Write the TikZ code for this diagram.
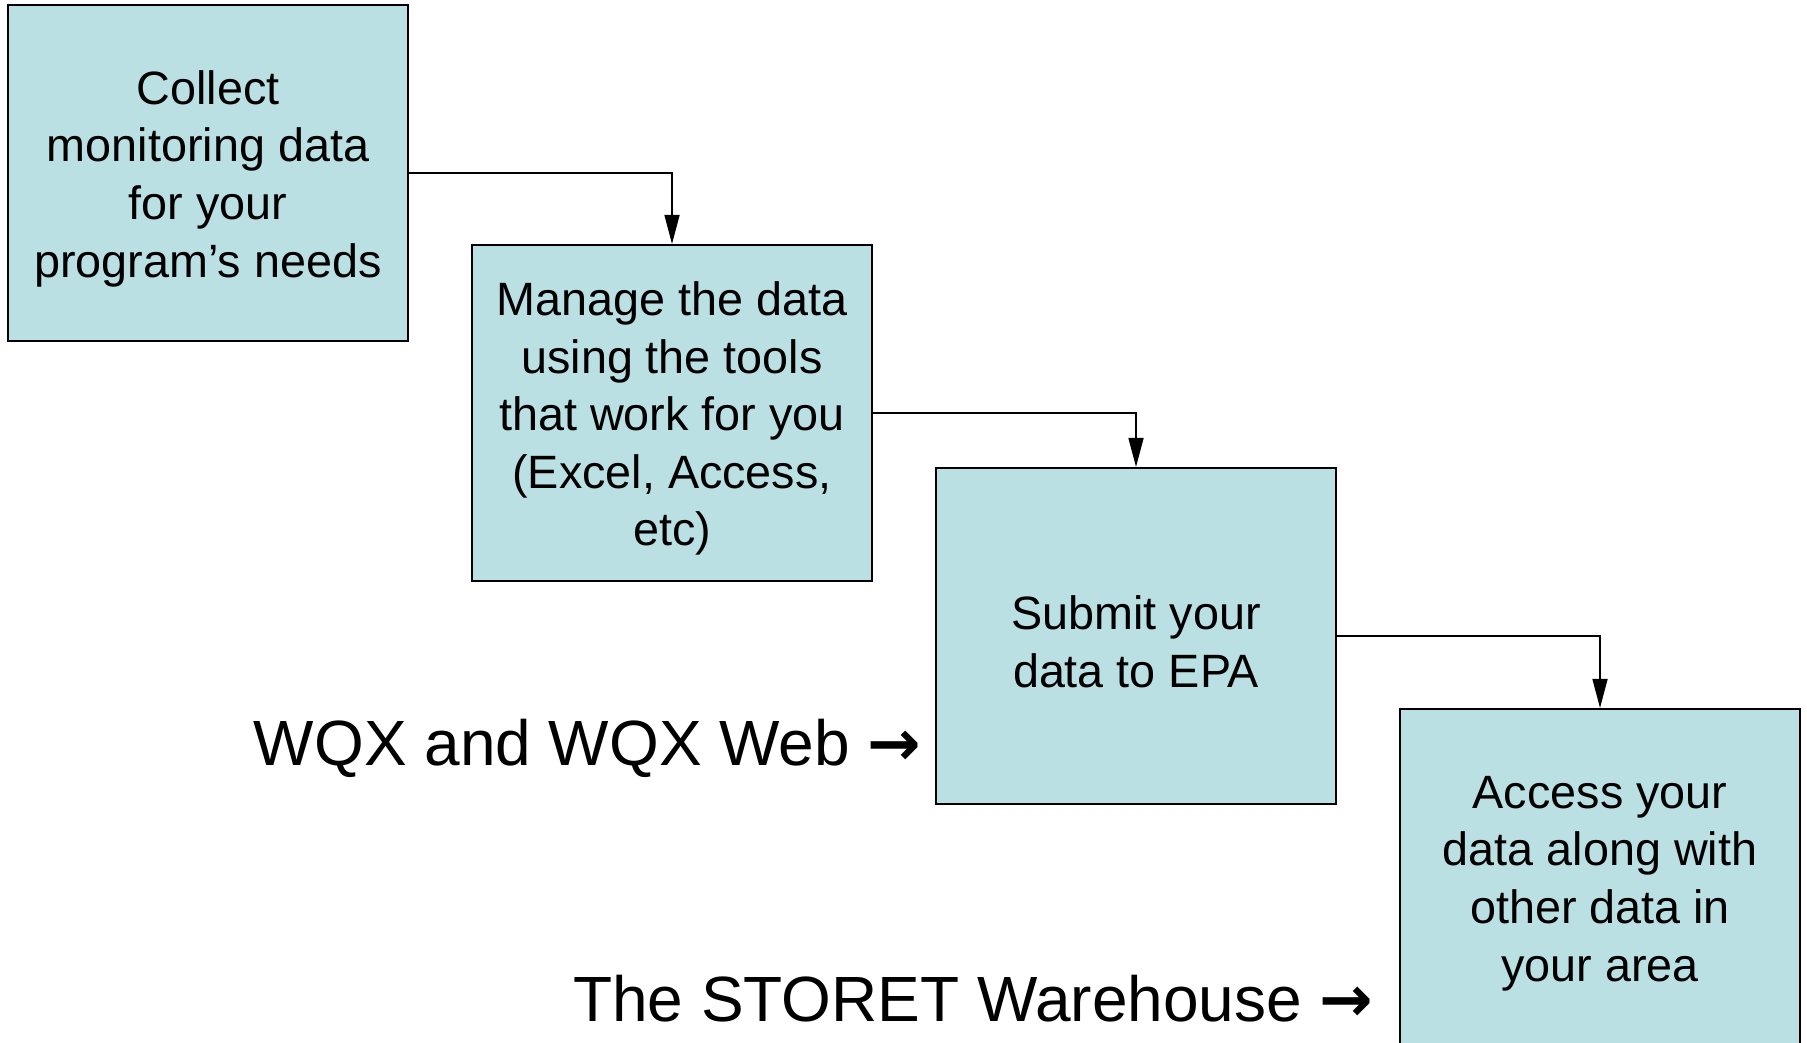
\documentclass[tikz,border=0pt]{standalone}
\usepackage{fontspec}
\setmainfont{Liberation Sans}
\newfontfamily\arrowfont{DejaVu Sans}
\usetikzlibrary{positioning,arrows.meta}
\definecolor{boxFill}{RGB}{187,224,227}
\newcommand{\toolArrow}{{\arrowfont\bfseries →}}
\newcommand{\topPad}{\rule{0pt}{0.45cm}}

\begin{document}
\begin{tikzpicture}
  [stageN/.style={draw,fill=boxFill,line width=0.6pt,minimum width=4cm,
     minimum height=3.36cm,align=center,inner sep=0pt,
     font=\fontsize{13.3}{16.4}\selectfont},
   toolN/.style={anchor=base east,inner sep=0pt,font=\fontsize{18.2}{22}\selectfont},
   flowE/.style={line width=0.45pt,-{Triangle[length=2.9mm,width=1.5mm]}},
  ]
 \clip (0,0) rectangle (18.07,-10.42);

 % the four stages
 \node[stageN] (collect) at (2.08,-1.73) {\topPad Collect\\monitoring data\\for your\\program’s needs};
 \node[stageN] (manage) at (6.72,-4.13) {\topPad Manage the data\\using the tools\\that work for you\\(Excel, Access,\\etc)};
 \node[stageN] (submit) at (11.36,-6.36) {\topPad Submit your\\data to EPA};
 \node[stageN] (access) at (16.00,-8.77) {\topPad Access your\\data along with\\other data in\\your area};

 \draw[flowE] (collect.east) -| (manage.north);
 \draw[flowE] (manage.east) -| (submit.north);
 \draw[flowE] (submit.east) -| (access.north);

 % tools
 \node[toolN] (wqx) at (9.22,-7.65) {WQX and WQX Web \toolArrow};
 \node[toolN] (storet) at (13.74,-10.21) {The STORET Warehouse \toolArrow};
\end{tikzpicture}
\end{document}
